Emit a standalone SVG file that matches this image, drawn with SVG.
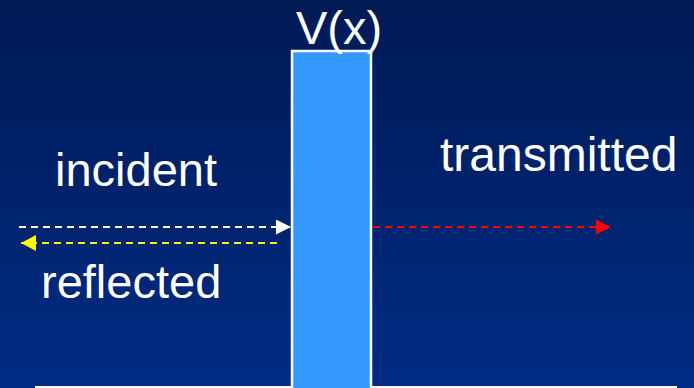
<svg xmlns="http://www.w3.org/2000/svg" width="694" height="388" viewBox="0 0 694 388">
  <defs>
    <linearGradient id="bg" x1="0" y1="0" x2="0" y2="1">
      <stop offset="0" stop-color="#001a55"/>
      <stop offset="1" stop-color="#002b83"/>
    </linearGradient>
    <marker id="head-white" markerWidth="15" markerHeight="15" refX="15" refY="7.5" orient="auto" markerUnits="userSpaceOnUse">
      <path d="M0,0 L15,7.5 L0,15 Z" fill="#ffffff"/>
    </marker>
    <marker id="head-yellow" markerWidth="15" markerHeight="16" refX="15" refY="8" orient="auto" markerUnits="userSpaceOnUse">
      <path d="M0,0 L15,8 L0,16 Z" fill="#ffff00"/>
    </marker>
    <marker id="head-red" markerWidth="15" markerHeight="15" refX="15" refY="7.5" orient="auto" markerUnits="userSpaceOnUse">
      <path d="M0,0 L15,7.5 L0,15 Z" fill="#ff0000"/>
    </marker>
  </defs>
  <style>
    .label { font-family: "Liberation Sans", Arial, sans-serif; fill: #ffffff; font-size: 47px; }
    .wave { stroke-width: 2; stroke-dasharray: 7 5; fill: none; }
  </style>

  <rect x="0" y="0" width="694" height="388" fill="url(#bg)"/>
  <!-- baseline rule along the bottom edge -->
  <line x1="35" y1="387" x2="677" y2="387" stroke="#ffffff" stroke-width="2"/>

  <g id="barrier">
    <rect x="292" y="51" width="79" height="340" fill="#3399ff" stroke="#ffffff" stroke-width="2.5"/>
    <text class="label" x="339" y="44" text-anchor="middle">V(x)</text>
  </g>

  <g id="incident">
    <text class="label" x="55" y="186">incident</text>
  </g>
  <g id="reflected">
    <text class="label" x="41" y="298">reflected</text>
  </g>
  <g id="transmitted">
    <text class="label" x="440" y="171" style="font-size:48px">transmitted</text>
  </g>

  <g id="connectors">
    <line class="wave" x1="19" y1="227" x2="291" y2="227" stroke="#ffffff" marker-end="url(#head-white)"/>
    <line class="wave" x1="277" y1="243" x2="21" y2="243" stroke="#ffff00" marker-end="url(#head-yellow)"/>
    <line class="wave" x1="373" y1="227" x2="611" y2="227" stroke="#ff0000" marker-end="url(#head-red)"/>
  </g>
</svg>
